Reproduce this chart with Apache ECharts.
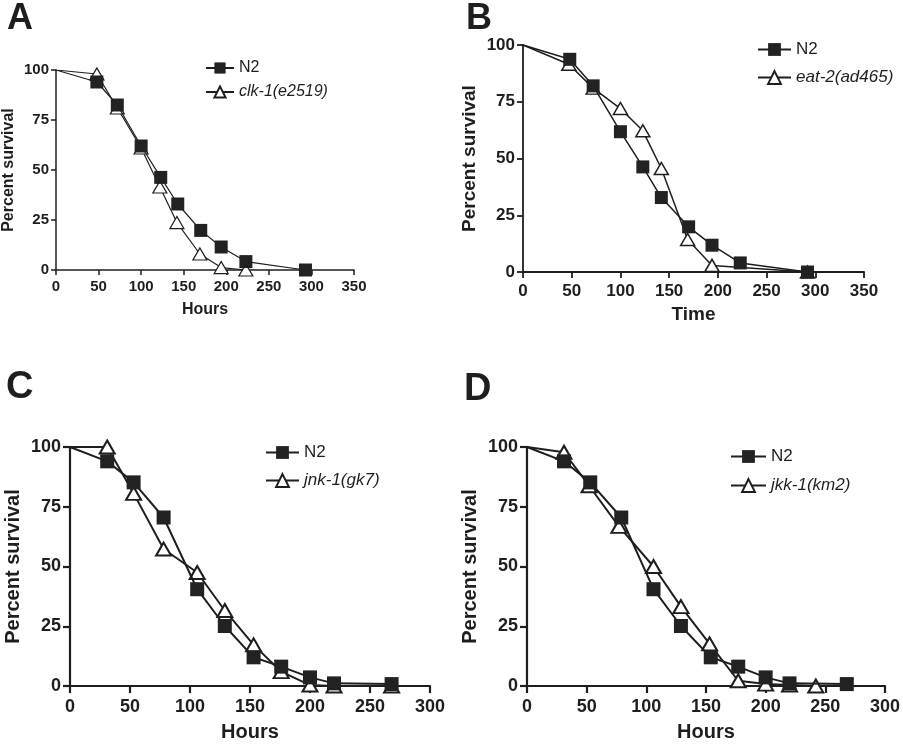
<!DOCTYPE html>
<html><head><meta charset="utf-8">
<script src="https://cdn.jsdelivr.net/npm/echarts@6/dist/echarts.min.js"></script>
<style>html,body{margin:0;padding:0;background:#fff}#c{width:903px;height:750px}</style>
</head><body><div id="c"></div>
<script>
// ---- Panel A: N2 vs clk-1(e2519) ----
const aN2Hours = [0, 48, 72, 100, 123, 143, 170, 194, 223, 293];
const aN2Surv  = [100, 94, 82.5, 62, 46.3, 33, 19.8, 11.5, 4.2, 0];
const aMutHours = [0, 48, 72, 100, 122, 142, 169, 194, 223];
const aMutSurv  = [100, 98, 81, 61, 41.5, 23.7, 8, 1.2, 0];
// ---- Panel B: N2 vs eat-2(ad465) ----
const bN2Hours = [0, 48, 72, 100, 123, 142, 170, 194, 223, 292];
const bN2Surv  = [100, 93.7, 82, 61.8, 46.3, 32.8, 19.9, 11.8, 4, 0];
const bMutHours = [0, 47, 72, 100, 123, 142, 169, 194, 292];
const bMutSurv  = [100, 91.5, 81, 72, 62.2, 45.6, 14.3, 2.9, 0];
// ---- Panel C: N2 vs jnk-1(gk7) ----
const cN2Hours = [0, 31, 53, 78, 106, 129, 153, 176, 200, 220, 268];
const cN2Surv  = [100, 94, 85.2, 70.5, 40.5, 25.1, 12, 8.1, 3.6, 1.1, 0.8];
const cMutHours = [0, 31, 53, 78, 106, 129, 153, 176, 200, 220, 268];
const cMutSurv  = [100, 100, 80.6, 57.3, 47.5, 31.6, 17.2, 6, 0.4, 0, 0];
// ---- Panel D: N2 vs jkk-1(km2) ----
const dN2Hours = [0, 31, 53, 79, 106, 129, 154, 177, 200, 220, 268];
const dN2Surv  = [100, 94, 85.2, 70.5, 40.5, 25.1, 12, 8.1, 3.6, 1.1, 0.8];
const dMutHours = [0, 31, 52, 77, 106, 129, 153, 177, 200, 220, 242];
const dMutSurv  = [100, 97.8, 83.8, 66.8, 50, 33.2, 17.6, 2.2, 0.8, 0.4, 0];

const panelLetters = ['A', 'B', 'C', 'D'];
const mutantNames = ['clk-1(e2519)', 'eat-2(ad465)', 'jnk-1(gk7)', 'jkk-1(km2)'];
const xTitles = ['Hours', 'Time', 'Hours', 'Hours'];
const yTitle = 'Percent survival';
const xMaxes = [350, 350, 300, 300];
const yTicks = [0, 25, 50, 75, 100];

const pair = (xs, ys) => xs.map((x, i) => [x, ys[i]]);
const panels = [
  { n2: pair(aN2Hours, aN2Surv), mut: pair(aMutHours, aMutSurv) },
  { n2: pair(bN2Hours, bN2Surv), mut: pair(bMutHours, bMutSurv) },
  { n2: pair(cN2Hours, cN2Surv), mut: pair(cMutHours, cMutSurv) },
  { n2: pair(dN2Hours, dN2Surv), mut: pair(dMutHours, dMutSurv) }
];

// layout / style per panel
const FONT = '"Liberation Sans", Arial, Helvetica, sans-serif';
const INK = '#1e1e1e';
const L = [
  { grid: {left: 55, top: 70, width: 299, height: 200}, tick: 15, name: 16, xGap: 32, yGap: 39, lm: 7, xm: 9, tl: 5, lw: 1.2, aw: 1.5, sym: 13, tri: [14, 12],
    leg: {left: 205, top: 60, iw: 28, ih: 14, fs: 16, gap: 8}, title: {left: 7, top: 1, fs: 36} },
  { grid: {left: 523, top: 45, width: 341, height: 227}, tick: 17, name: 19, xGap: 33, yGap: 44, lm: 8, xm: 11, tl: 6, lw: 1.5, aw: 1.8, sym: 13, tri: [14, 12],
    leg: {left: 757, top: 41, iw: 33, ih: 16, fs: 17, gap: 11}, title: {left: 466, top: 1, fs: 36} },
  { grid: {left: 70, top: 447, width: 360, height: 239}, tick: 18, name: 20, xGap: 36, yGap: 47, lm: 9, xm: 12, tl: 7, lw: 2, aw: 2.2, sym: 14, tri: [15, 13],
    leg: {left: 265, top: 444, iw: 33, ih: 16, fs: 17, gap: 11}, title: {left: 6, top: 369, fs: 38} },
  { grid: {left: 527, top: 447, width: 360, height: 239}, tick: 18, name: 20, xGap: 36, yGap: 47, lm: 9, xm: 12, tl: 7, lw: 2, aw: 2.2, sym: 14, tri: [15, 13],
    leg: {left: 730, top: 448, iw: 35, ih: 16, fs: 17, gap: 12}, title: {left: 464, top: 371, fs: 38} }
];

const option = {
  backgroundColor: '#fff',
  animation: false,
  title: L.map((p, i) => ({
    text: panelLetters[i], left: p.title.left, top: p.title.top, padding: 0,
    textStyle: {fontFamily: FONT, fontWeight: 'bold', fontSize: p.title.fs, color: INK}
  })),
  grid: L.map(p => Object.assign({containLabel: false}, p.grid)),
  xAxis: L.map((p, i) => ({
    type: 'value', gridIndex: i, min: 0, max: xMaxes[i], interval: 50,
    name: xTitles[i], nameLocation: 'middle', nameGap: p.xGap,
    nameTextStyle: {fontFamily: FONT, fontWeight: 'bold', fontSize: p.name, color: INK},
    axisLine: {show: true, onZero: false, lineStyle: {color: INK, width: p.aw}},
    axisTick: {show: true, inside: false, length: p.tl, lineStyle: {color: INK, width: p.aw}},
    axisLabel: {fontFamily: FONT, fontWeight: 'bold', fontSize: p.tick, color: INK, margin: p.xm},
    splitLine: {show: false}
  })),
  yAxis: L.map((p, i) => ({
    type: 'value', gridIndex: i, min: 0, max: 100, interval: 25,
    name: yTitle, nameLocation: 'middle', nameGap: p.yGap,
    nameTextStyle: {fontFamily: FONT, fontWeight: 'bold', fontSize: p.name, color: INK},
    axisLine: {show: true, onZero: false, lineStyle: {color: INK, width: p.aw}},
    axisTick: {show: true, inside: false, length: p.tl, lineStyle: {color: INK, width: p.aw}},
    axisLabel: {fontFamily: FONT, fontWeight: 'bold', fontSize: p.tick, color: INK, margin: p.lm,
      formatter: v => yTicks.includes(v) ? String(v) : ''},
    splitLine: {show: false}
  })),
  legend: L.map((p, i) => ({
    orient: 'vertical', left: p.leg.left, top: p.leg.top, padding: 0,
    itemWidth: p.leg.iw, itemHeight: p.leg.ih, itemGap: p.leg.gap,
    data: [
      {name: 'N2-' + i},
      {name: 'mut-' + i}
    ],
    formatter: name => name.startsWith('N2') ? '{n|N2}' : '{m|' + mutantNames[i] + '}',
    textStyle: {fontFamily: FONT, fontSize: p.leg.fs, color: INK,
      rich: {n: {fontFamily: FONT, fontSize: p.leg.fs, color: INK},
             m: {fontFamily: FONT, fontSize: p.leg.fs, fontStyle: 'italic', color: INK}}}
  })),
  series: []
};

panels.forEach((d, i) => {
  const p = L[i];
  option.series.push({
    name: 'mut-' + i, type: 'line', xAxisIndex: i, yAxisIndex: i, data: d.mut, z: 2,
    symbol: 'triangle', symbolSize: p.tri, showAllSymbol: true,
    lineStyle: {color: INK, width: p.lw},
    itemStyle: {color: '#fff', borderColor: INK, borderWidth: p.lw},
    emphasis: {disabled: true}
  });
  option.series.push({
    name: 'N2-' + i, type: 'line', xAxisIndex: i, yAxisIndex: i, data: d.n2, z: 3,
    symbol: 'rect', symbolSize: p.sym, showAllSymbol: true,
    lineStyle: {color: INK, width: p.lw},
    itemStyle: {color: '#222', borderColor: INK, borderWidth: 0},
    emphasis: {disabled: true}
  });
});
// curves start at 100% at t=0 without a marker
option.series.forEach(s => {
  s.data = s.data.map((pt, k) => k === 0 ? {value: pt, symbol: 'none'} : pt);
});

const chart = echarts.init(document.getElementById('c'), null, {renderer: 'canvas'});
chart.setOption(option);
</script>
</body></html>
